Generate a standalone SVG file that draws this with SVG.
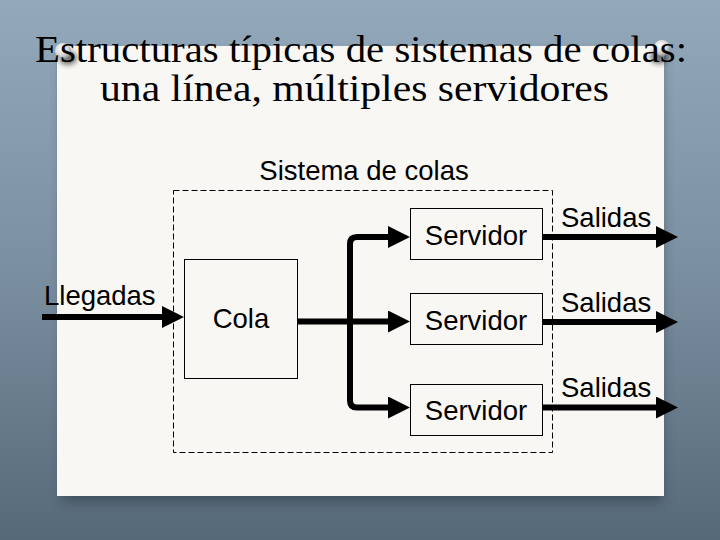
<svg xmlns="http://www.w3.org/2000/svg" width="720" height="540" viewBox="0 0 720 540">
  <defs>
    <linearGradient id="bg" x1="0" y1="0" x2="0" y2="1">
      <stop offset="0" stop-color="#93a9bb"/>
      <stop offset="0.5" stop-color="#7a8fa0"/>
      <stop offset="1" stop-color="#566979"/>
    </linearGradient>
    <radialGradient id="pin" cx="0.4" cy="0.35" r="0.7">
      <stop offset="0" stop-color="#ffffff"/>
      <stop offset="0.6" stop-color="#d6d6d6"/>
      <stop offset="1" stop-color="#8a8a8a"/>
    </radialGradient>
    <filter id="blur" x="-20%" y="-20%" width="140%" height="140%">
      <feGaussianBlur stdDeviation="6"/>
    </filter>
    <filter id="blur2" x="-50%" y="-50%" width="200%" height="200%">
      <feGaussianBlur stdDeviation="2.5"/>
    </filter>
    <marker id="ah" markerUnits="userSpaceOnUse" markerWidth="22" markerHeight="22" viewBox="0 0 22 22" refX="0" refY="11" orient="auto">
      <path d="M0 0 L22 11 L0 22 Z" fill="#000"/>
    </marker>
    <style>
      .box { fill: none; stroke: #000; stroke-width: 1; }
      .lbl { font-family: "Liberation Sans", Arial, sans-serif; font-size: 27.5px; fill: #000; }
      .title { font-family: "Liberation Serif", "DejaVu Serif", serif; font-size: 37px; fill: #000; }
      .wire { fill: none; stroke: #000; stroke-width: 6; }
    </style>
  </defs>

  <!-- background and paper -->
  <rect x="0" y="0" width="720" height="540" fill="url(#bg)"/>
  <rect x="62" y="56" width="600" height="446" fill="#2a3540" opacity="0.55" filter="url(#blur)"/>
  <rect x="57" y="46" width="607" height="450" fill="#f8f7f4"/>
  <!-- pins -->
  <ellipse cx="68" cy="58" rx="9" ry="7" fill="#222" opacity="0.6" filter="url(#blur2)"/>
  <circle cx="63" cy="51" r="8" fill="url(#pin)"/>
  <ellipse cx="659" cy="57" rx="9" ry="7" fill="#222" opacity="0.6" filter="url(#blur2)"/>
  <circle cx="662" cy="48" r="8" fill="url(#pin)"/>

  <!-- title -->
  <text class="title" x="35" y="62" textLength="652" lengthAdjust="spacingAndGlyphs">Estructuras típicas de sistemas de colas:</text>
  <text class="title" x="100" y="101" textLength="509" lengthAdjust="spacingAndGlyphs">una línea, múltiples servidores</text>

  <g id="sistema">
    <rect x="173.5" y="190.5" width="379" height="262" fill="none" stroke="#000" stroke-width="1" stroke-dasharray="6 3"/>
    <text class="lbl" x="364" y="180" text-anchor="middle">Sistema de colas</text>
  </g>

  <g id="cola">
    <rect class="box" x="184.5" y="259.5" width="113" height="119"/>
    <text class="lbl" x="241" y="328" text-anchor="middle">Cola</text>
  </g>

  <g id="servidor1">
    <rect class="box" x="410.5" y="208.5" width="132" height="51"/>
    <text class="lbl" x="476" y="245" text-anchor="middle">Servidor</text>
  </g>
  <g id="servidor2">
    <rect class="box" x="410.5" y="293.5" width="132" height="51"/>
    <text class="lbl" x="476" y="330" text-anchor="middle">Servidor</text>
  </g>
  <g id="servidor3">
    <rect class="box" x="410.5" y="384.5" width="132" height="51"/>
    <text class="lbl" x="476" y="420" text-anchor="middle">Servidor</text>
  </g>

  <g id="connectors">
    <line class="wire" x1="42" y1="317" x2="162" y2="317" marker-end="url(#ah)"/>
    <text class="lbl" x="44" y="305">Llegadas</text>
    <path class="wire" d="M297 321.5 H350"/>
    <path class="wire" d="M350 321.5 V244 Q350 237 357 237 H388" marker-end="url(#ah)"/>
    <path class="wire" d="M350 321.5 V400.5 Q350 407.5 357 407.5 H388" marker-end="url(#ah)"/>
    <path class="wire" d="M350 321.5 H388" marker-end="url(#ah)"/>
    <line class="wire" x1="542" y1="237" x2="656" y2="237" marker-end="url(#ah)"/>
    <line class="wire" x1="542" y1="322" x2="656" y2="322" marker-end="url(#ah)"/>
    <line class="wire" x1="542" y1="407.5" x2="656" y2="407.5" marker-end="url(#ah)"/>
    <text class="lbl" x="561" y="227">Salidas</text>
    <text class="lbl" x="561" y="312">Salidas</text>
    <text class="lbl" x="561" y="397">Salidas</text>
  </g>
</svg>
